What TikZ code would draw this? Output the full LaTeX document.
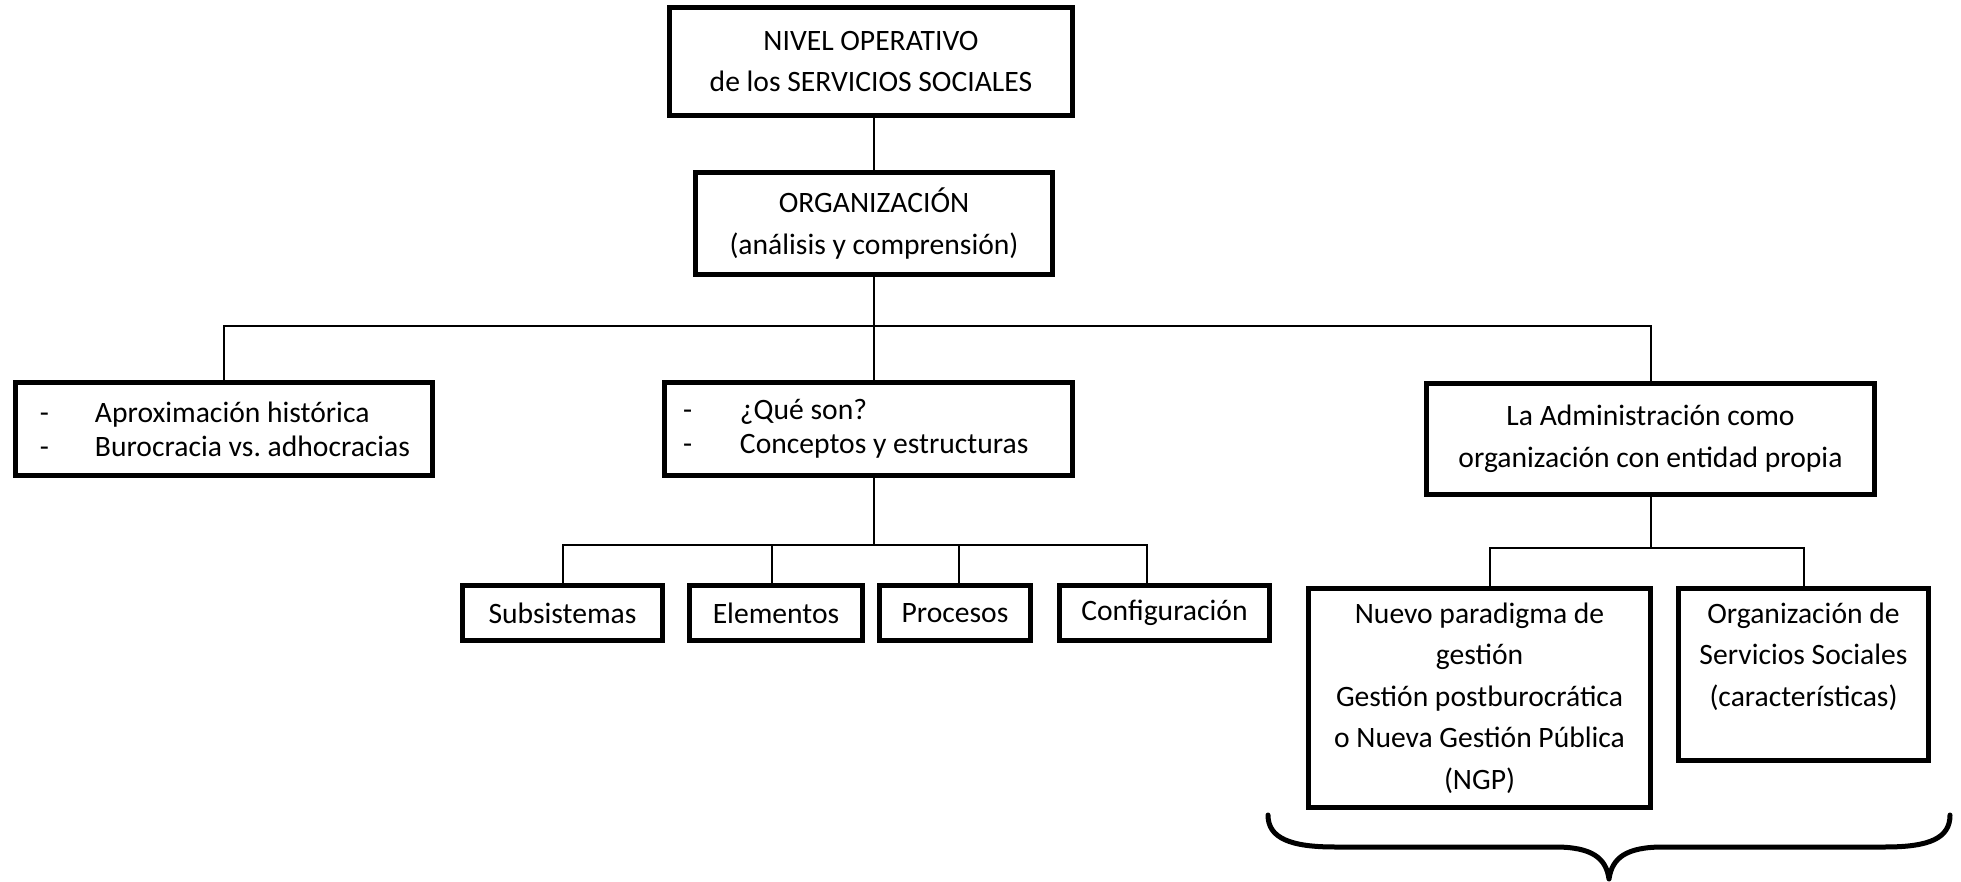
\documentclass[tikz,border=0pt]{standalone}
\usepackage{fontspec}
\setmainfont{Carlito}
\tikzstyle{box}=[draw,line width=2.5pt,align=center,inner sep=0pt]
\tikzstyle{listbox}=[box,align=flush left,inner xsep=0pt,font=\fontsize{14.8}{17}\selectfont\frenchspacing]
\tikzstyle{conn}=[draw,line width=1pt]
\tikzstyle{brace}=[draw,line width=2.5pt,line cap=round,line join=round]

\begin{document}
\begin{tikzpicture}[x=0.5pt,y=-0.5pt,font=\fontsize{14.8}{20.8}\selectfont]
\useasboundingbox (0,0) rectangle (1961,882);

% upper levels
\node[box,minimum width=201.5pt,minimum height=54pt] (nivel) at (871,61.5) {NIVEL OPERATIVO\\de los SERVICIOS SOCIALES};
\node[box,minimum width=178.5pt,minimum height=51pt] (org) at (874,223.5) {ORGANIZACIÓN\\(análisis y comprensión)};

\node[listbox,text width=208.5pt,minimum height=46.5pt] (hist) at (224,429)
  {\hspace*{12.25pt}\makebox[27.5pt][l]{-}Aproximación histórica\\\hspace*{12.25pt}\makebox[27.5pt][l]{-}Burocracia vs. adhocracias};
\node[listbox,text width=204pt,minimum height=46.5pt] (que) at (868.5,429)
  {\hspace*{9.25pt}\makebox[28.5pt][l]{-}¿Qué son?\\\hspace*{9.25pt}\makebox[28.5pt][l]{-}Conceptos y estructuras};
\node[box,minimum width=224pt,minimum height=55.5pt] (adm) at (1650.5,439) {La Administración como\\organización con entidad propia};

% second row under que
\foreach \pos/\name/\w/\txt in {562.5/subsis/100/Subsistemas, 776/elem/86.5/Elementos, 955/proc/75.5/Procesos, 1164.5/config/105/Configuración}
  \node[box,minimum width=\w pt,minimum height=27.5pt] (\name) at (\pos,613) {\txt};

% second row under adm
\node[box,minimum width=171pt,minimum height=109.5pt] (ngp) at (1479.5,698)
  {Nuevo paradigma de\\gestión\\Gestión postburocrática\\o Nueva Gestión Pública\\(NGP)};
\node[box,minimum width=125pt,minimum height=86pt] (orgss) at (1803.5,674.5)
  {Organización de\\Servicios Sociales\\(características)\\[-1pt]\mbox{}};

% connectors
\draw[conn] (nivel.south -| org.north) -- (org.north);
\coordinate (bus1) at (874,326);
\draw[conn] (org.south) -- (bus1);
\draw[conn] (hist.north) |- (bus1) -| (adm.north);
\draw[conn] (bus1) -- (bus1 |- que.north);

\coordinate (bus2) at (874,545);
\draw[conn] (bus2 |- que.south) -- (bus2);
\draw[conn] (subsis.north) |- ([xshift=-8.75pt]config.north |- bus2) -- ([xshift=-8.75pt]config.north);
\foreach \name/\dx in {elem/-2, proc/2}
  \draw[conn] ([xshift=\dx pt]\name.north) -- ([xshift=\dx pt]\name.north |- bus2);

\coordinate (bus3) at (1650.5,548);
\draw[conn] (adm.south) -- (bus3);
\draw[conn] ([xshift=5.25pt]ngp.north) |- (bus3) -| (orgss.north);

% brace
\draw[brace] (1268,815) .. controls (1268,838) and (1290,847) .. (1335,847) -- (1555,847)
  .. controls (1592,847) and (1606,858) .. (1609,879)
  .. controls (1612,858) and (1626,847) .. (1663,847) -- (1885,847)
  .. controls (1930,847) and (1950,838) .. (1950,815);
\end{tikzpicture}
\end{document}
